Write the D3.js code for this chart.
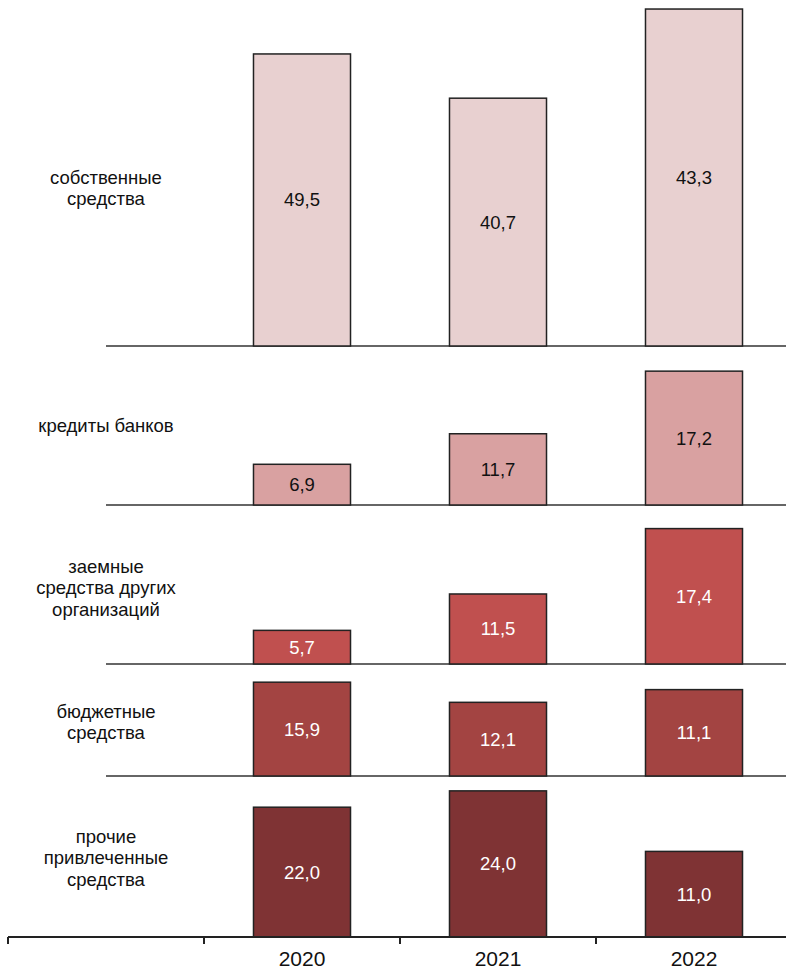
<!DOCTYPE html>
<html><head><meta charset="utf-8">
<script src="https://cdn.jsdelivr.net/npm/d3@7"></script>
<style>html,body{margin:0;padding:0;background:#fff;}svg{display:block;}</style>
</head><body>
<svg id="chart" width="786" height="971"></svg>
<script>
// ---- data ----
const years = ["2020", "2021", "2022"];
const categories = [
  ["собственные", "средства"],
  ["кредиты банков"],
  ["заемные", "средства других", "организаций"],
  ["бюджетные", "средства"],
  ["прочие", "привлеченные", "средства"]
];
const ownFunds = [49.5, 40.7, 43.3];
const bankLoans = [6.9, 11.7, 17.2];
const otherOrgLoans = [5.7, 11.5, 17.4];
const budgetFunds = [15.9, 12.1, 11.1];
const otherFunds = [22.0, 24.0, 11.0];
// relative size of total financing per year (bar heights scale with it)
const totalIndex = [100, 103.2, 131.9];

const series = [ownFunds, bankLoans, otherOrgLoans, budgetFunds, otherFunds];

// ---- layout / style ----
const fills = ["#e8d0d0", "#d9a1a1", "#c0504f", "#a34442", "#7f3334"];
const labelColors = ["#111", "#111", "#fff", "#fff", "#fff"];
const baselines = [346, 505, 664, 776, 937];
const labelCenters = [188, 426, 588, 722, 858];
const font = "'Liberation Sans', Arial, sans-serif";

const svg = d3.select("#chart");
const x = d3.scaleBand().domain(["", ...years]).range([8, 792]).padding(0);
const y = d3.scaleLinear().domain([0, 100]).range([0, 590]);
const barW = x.bandwidth() * 0.495;

series.forEach((vals, r) => {
  const base = baselines[r];
  const g = svg.append("g");
  if (r < series.length - 1) {
    g.append("line").attr("x1", 106).attr("x2", 786)
      .attr("y1", base).attr("y2", base)
      .attr("stroke", "#333").attr("stroke-width", 1.5);
  }
  const data = vals.map((v, i) => ({year: years[i], v, h: y(v * totalIndex[i] / 100)}));
  g.selectAll("rect").data(data).join("rect")
    .attr("x", d => x(d.year) + x.bandwidth() / 2 - barW / 2)
    .attr("y", d => base - d.h)
    .attr("width", barW)
    .attr("height", d => d.h)
    .attr("fill", fills[r])
    .attr("stroke", "#222").attr("stroke-width", 1.5);
  g.selectAll("text.val").data(data).join("text")
    .attr("class", "val")
    .attr("x", d => x(d.year) + x.bandwidth() / 2)
    .attr("y", d => base - d.h / 2)
    .attr("dy", "0.35em")
    .attr("text-anchor", "middle")
    .attr("font-family", font).attr("font-size", 18.5)
    .attr("fill", labelColors[r])
    .text(d => d.v.toFixed(1).replace(".", ","));
  const lines = categories[r];
  const lh = 21.5;
  const t = g.append("text")
    .attr("text-anchor", "middle")
    .attr("font-family", font).attr("font-size", 18.5).attr("fill", "#111");
  lines.forEach((ln, k) => {
    t.append("tspan").attr("x", 106)
      .attr("y", labelCenters[r] + (k - (lines.length - 1) / 2) * lh)
      .attr("dy", "0.35em").text(ln);
  });
});

// bottom axis
const axisY = 937;
svg.append("line").attr("x1", 8).attr("x2", 786)
  .attr("y1", axisY).attr("y2", axisY)
  .attr("stroke", "#222").attr("stroke-width", 2);
svg.selectAll("line.tick").data(x.domain()).join("line")
  .attr("class", "tick")
  .attr("x1", d => x(d)).attr("x2", d => x(d))
  .attr("y1", axisY).attr("y2", axisY + 7)
  .attr("stroke", "#222").attr("stroke-width", 2);
svg.selectAll("text.year").data(years).join("text")
  .attr("class", "year")
  .attr("x", d => x(d) + x.bandwidth() / 2)
  .attr("y", 965.5)
  .attr("text-anchor", "middle")
  .attr("font-family", font).attr("font-size", 21).attr("fill", "#111")
  .text(d => d);
</script>
</body></html>
